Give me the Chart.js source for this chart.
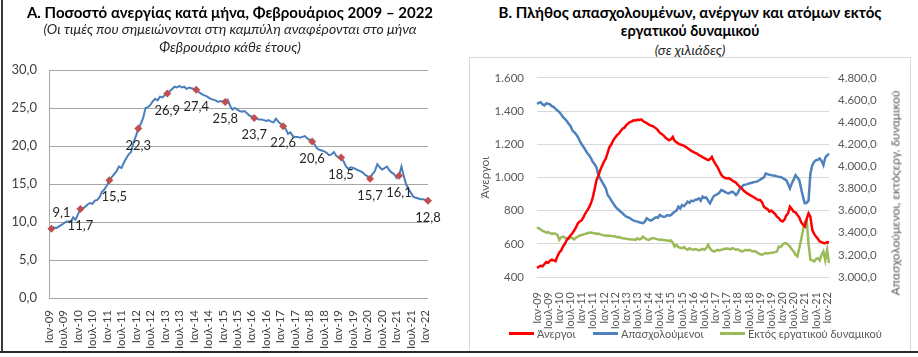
<!DOCTYPE html>
<html><head><meta charset="utf-8">
<script src="https://cdn.jsdelivr.net/npm/chart.js@4"></script>
<style>
html,body{margin:0;padding:0;background:#fff;}
body{width:918px;height:357px;position:relative;overflow:hidden;font-family:Lato,"Open Sans",sans-serif;}
.abs{position:absolute;}
.t{position:absolute;white-space:nowrap;transform:translate(-50%,-50%);}
.bold{font-weight:bold;font-size:15px;color:#000;}
.it{font-style:italic;font-size:14px;color:#262626;}
#frameL{left:1px;top:0;width:2px;height:353px;background:#3a3a3a;}
#frameB{left:0;top:351px;width:918px;height:2px;background:#2a2a2a;}
#boxB{left:469px;top:57px;width:440px;height:294px;border:1px solid #d9d9d9;}
#cA{left:0;top:0;}
#cB{left:470px;top:58px;}
#y1title{left:895px;top:193px;transform:translate(-50%,-50%) rotate(-90deg);font-size:12px;color:#595959;}
.leg{position:absolute;top:325px;height:16px;display:flex;align-items:center;font-size:11px;color:#595959;white-space:nowrap;}
.ln{display:inline-block;width:25px;height:3px;margin-right:3px;}
</style></head>
<body>
<div id="boxB" class="abs"></div>
<div class="abs" id="cA" style="width:460px;height:352px"><canvas id="chartA" width="460" height="352"></canvas></div>
<div class="abs" id="cB" style="width:440px;height:294px"><canvas id="chartB" width="440" height="294"></canvas></div>
<div class="t bold" style="left:230px;top:12px">Α. Ποσοστό ανεργίας κατά μήνα, Φεβρουάριος 2009 – 2022</div>
<div class="t it" style="left:230px;top:28px">(Οι τιμές που σημειώνονται στη καμπύλη αναφέρονται στο μήνα</div>
<div class="t it" style="left:230px;top:46px">Φεβρουάριο κάθε έτους)</div>
<div class="t bold" style="left:690px;top:12px">Β. Πλήθος απασχολουμένων, ανέργων και ατόμων εκτός</div>
<div class="t bold" style="left:690px;top:30px;font-size:14.5px">εργατικού δυναμικού</div>
<div class="t it" style="left:690px;top:49px">(σε χιλιάδες)</div>
<div class="t" id="y1title">Απασχολούμενοι, εκτόςεργ. δυναμικού</div>
<div id="legendB"></div>
<div id="frameL" class="abs"></div>
<div id="frameB" class="abs"></div>
<script>
// ---- categories ----
const years = ['09','10','11','12','13','14','15','16','17','18','19','20','21','22'];
const monthNames = ['Ιαν','Φεβ','Μαρ','Απρ','Μαϊ','Ιουν','Ιουλ','Αυγ','Σεπ','Οκτ','Νοε','Δεκ'];
const tickMonths = ['Ιαν','Ιουλ'];
const markedMonth = 'Φεβ';

// ---- Panel A: unemployment rate (%), Jan 2009 - Feb 2022 ----
const rate = [
  8.9, 9.1, 9.3, 9.2, 9.4, 9.6, 9.8, 10.0, 10.1, 10.0, 10.6, 10.3,
  11.0, 11.7, 11.8, 12.0, 12.3, 12.5, 12.4, 12.8, 12.9, 13.3, 14.0, 14.3,
  14.8, 15.5, 15.9, 16.3, 16.7, 17.3, 17.1, 17.8, 18.4, 18.9, 19.2, 20.5,
  21.3, 22.3, 22.9, 23.7, 25.0, 25.1, 25.4, 25.9, 26.2, 26.0, 26.5, 26.4,
  26.7, 26.9, 27.2, 27.5, 27.8, 27.7, 27.9, 27.7, 27.8, 27.5, 27.7, 27.6,
  27.5, 27.4, 27.1, 26.9, 26.7, 26.6, 26.4, 26.2, 26.1, 26.0, 25.8, 25.9,
  25.9, 25.8, 26.1, 25.3, 24.8, 25.0, 24.8, 24.6, 24.5, 24.6, 24.3, 24.0,
  23.9, 23.7, 23.6, 23.5, 23.5, 23.4, 23.3, 23.4, 23.2, 23.1, 23.6, 23.2,
  22.9, 22.6, 22.3, 21.6, 21.8, 21.3, 21.2, 21.2, 21.1, 21.2, 21.3, 21.0,
  20.8, 20.6, 20.2, 19.7, 19.5, 19.4, 19.3, 19.1, 18.8, 18.9, 19.2, 18.7,
  18.5, 18.5, 18.0, 17.3, 17.0, 17.2, 17.1, 17.0, 16.8, 16.7, 16.5, 16.2,
  16.0, 15.7, 16.3, 16.7, 17.6, 17.2, 16.9, 17.1, 17.3, 16.8, 16.5, 16.3,
  15.8, 16.1, 17.3, 16.0, 14.9, 14.3, 13.8, 13.3, 13.2, 13.1, 13.0, 13.0,
  12.9, 12.8
];

// ---- Panel B: thousands of persons, Jan 2009 - Feb 2022 ----
const unemployed = [
  455, 462, 468, 465, 478, 490, 486, 498, 505, 500, 496, 525,
  548, 560, 584, 600, 624, 636, 650, 664, 680, 700, 724, 735,
  742, 760, 784, 800, 820, 844, 880, 930, 984, 1010, 1044, 1070,
  1095, 1114, 1150, 1184, 1200, 1224, 1240, 1255, 1264, 1280, 1294, 1300,
  1315, 1325, 1334, 1338, 1345, 1344, 1348, 1346, 1350, 1340, 1334, 1328,
  1320, 1314, 1310, 1304, 1296, 1285, 1270, 1262, 1254, 1240, 1232, 1224,
  1230, 1244, 1220, 1212, 1204, 1198, 1196, 1190, 1184, 1176, 1168, 1160,
  1154, 1148, 1144, 1134, 1130, 1122, 1116, 1110, 1104, 1110, 1124, 1100,
  1080, 1064, 1040, 1018, 1004, 998, 994, 996, 990, 982, 975, 968,
  955, 945, 934, 922, 912, 904, 898, 890, 884, 878, 870, 864,
  864, 850, 824, 815, 808, 794, 800, 790, 780, 764, 755, 740,
  734, 745, 770, 784, 824, 810, 794, 790, 774, 760, 730, 715,
  704, 750, 784, 764, 684, 660, 644, 630, 614, 610, 605, 604,
  610, 608
];
const employed = [
  4566, 4575, 4581, 4560, 4551, 4570, 4566, 4560, 4545, 4536, 4520, 4505,
  4491, 4470, 4446, 4430, 4410, 4386, 4365, 4326, 4310, 4290, 4266, 4230,
  4200, 4176, 4150, 4120, 4101, 4075, 4040, 4020, 3990, 3921, 3890, 3860,
  3831, 3800, 3741, 3720, 3690, 3666, 3640, 3620, 3606, 3590, 3576, 3560,
  3545, 3540, 3531, 3520, 3510, 3505, 3501, 3495, 3490, 3486, 3500, 3531,
  3520, 3510, 3516, 3530, 3540, 3535, 3561, 3550, 3545, 3546, 3560, 3555,
  3560, 3576, 3590, 3600, 3636, 3620, 3651, 3640, 3660, 3681, 3670, 3690,
  3685, 3696, 3700, 3710, 3690, 3726, 3715, 3720, 3690, 3666, 3700, 3730,
  3741, 3750, 3760, 3786, 3780, 3770, 3760, 3756, 3765, 3771, 3760, 3741,
  3760, 3800, 3810, 3831, 3835, 3840, 3846, 3850, 3855, 3860, 3861, 3870,
  3880, 3891, 3900, 3936, 3930, 3925, 3921, 3918, 3915, 3910, 3906, 3905,
  3895, 3885, 3876, 3840, 3801, 3846, 3880, 3921, 3900, 3876, 3800, 3726,
  3666, 3670, 3690, 3936, 4011, 4040, 4056, 4060, 4071, 4050, 4011, 4080,
  4100, 4116
];
const outOfLabour = [
  3450, 3440, 3430, 3417, 3410, 3400, 3405, 3396, 3390, 3395, 3390, 3380,
  3336, 3360, 3366, 3355, 3351, 3345, 3360, 3351, 3340, 3355, 3366, 3375,
  3380, 3385, 3390, 3396, 3400, 3402, 3398, 3395, 3390, 3392, 3385, 3381,
  3378, 3372, 3375, 3372, 3370, 3368, 3366, 3360, 3362, 3355, 3351, 3348,
  3345, 3342, 3342, 3340, 3338, 3336, 3350, 3340, 3345, 3366, 3350, 3340,
  3336, 3345, 3350, 3351, 3345, 3340, 3336, 3338, 3334, 3332, 3330, 3325,
  3330, 3310, 3276, 3290, 3270, 3265, 3261, 3270, 3255, 3246, 3260, 3250,
  3246, 3252, 3250, 3240, 3246, 3255, 3246, 3260, 3291, 3260, 3240, 3231,
  3235, 3246, 3240, 3246, 3250, 3255, 3258, 3255, 3250, 3261, 3255, 3246,
  3250, 3240, 3231, 3235, 3246, 3240, 3246, 3238, 3231, 3235, 3225, 3215,
  3205, 3201, 3210, 3216, 3212, 3216, 3220, 3222, 3225, 3230, 3276, 3270,
  3290, 3306, 3306, 3290, 3276, 3250, 3231, 3200, 3186, 3260, 3336, 3420,
  3501, 3516, 3300, 3156, 3150, 3141, 3160, 3171, 3150, 3200, 3231, 3150,
  3246, 3126
];
const seriesNames = ['Άνεργοι', 'Απασχολούμενοι', 'Εκτός εργατικού δυναμικού'];

const months = years.flatMap(y => monthNames.map(m => m + '-' + y)).slice(0, rate.length);

// ---- helpers ----
const fmt1 = v => v.toFixed(1).replace('.', ',');
const fmtTh = v => String(Math.round(v)).replace(/\B(?=(\d{3})+(?!\d))/g, '.');
const isTick = l => tickMonths.some(m => l.startsWith(m + '-'));
const FONT = 'Lato, "Open Sans", sans-serif';
Chart.defaults.font.family = FONT;
Chart.defaults.animation = false;

const febLabels = {
  id: 'febLabels',
  afterDatasetsDraw(chart) {
    const meta = chart.getDatasetMeta(0);
    const ctx = chart.ctx;
    ctx.save();
    ctx.font = '13px ' + FONT;
    ctx.fillStyle = '#262626';
    ctx.textAlign = 'center';
    ctx.textBaseline = 'middle';
    let k = 0;
    meta.data.forEach((pt, i) => {
      if (!months[i].startsWith(markedMonth)) return;
      let dx = 0, dy = 17;
      if (k === 0) { dx = 10; dy = -16; }
      else if (k === 2) { dx = 5; }
      ctx.fillText(fmt1(rate[i]), pt.x + dx, pt.y + dy);
      k++;
    });
    ctx.restore();
  }
};

new Chart(document.getElementById('chartA'), {
  type: 'line',
  data: {
    labels: months,
    datasets: [{
      data: rate,
      borderColor: '#4a7ebb',
      borderWidth: 2,
      tension: 0,
      pointStyle: 'rectRot',
      pointRadius: c => months[c.dataIndex].startsWith(markedMonth) ? 4 : 0,
      pointBackgroundColor: '#c0504d',
      pointBorderColor: '#c0504d',
      pointBorderWidth: 0
    }]
  },
  options: {
    responsive: false,
    events: [],
    layout: { padding: { top: 70, right: 32, left: 4, bottom: 0 } },
    plugins: { legend: { display: false }, tooltip: { enabled: false } },
    scales: {
      x: {
        afterFit: s => { s.height = 54; },
        grid: { display: false },
        border: { display: false },
        ticks: {
          autoSkip: false, minRotation: 90, maxRotation: 90, padding: 4,
          color: '#404040', font: { size: 11.5 },
          callback(v) { const l = this.getLabelForValue(v); return isTick(l) ? l : ''; }
        }
      },
      y: {
        min: 0, max: 30,
        afterFit: s => { s.width = 45; },
        grid: { color: '#a6a6a6', drawTicks: false },
        border: { display: true, color: '#a6a6a6' },
        ticks: { stepSize: 5, padding: 12, color: '#404040', font: { size: 13 }, callback: v => fmt1(v) }
      }
    }
  },
  plugins: [febLabels]
});

const colorsB = ['#ff0000', '#4f81bd', '#9bbb59'];
const seriesB = [unemployed, employed, outOfLabour];
const axesB = ['y', 'y1', 'y1'];

new Chart(document.getElementById('chartB'), {
  type: 'line',
  data: {
    labels: months,
    datasets: seriesB.map((d, k) => ({
      label: seriesNames[k],
      data: d,
      yAxisID: axesB[k],
      borderColor: colorsB[k],
      backgroundColor: colorsB[k],
      borderWidth: 2.5,
      pointRadius: 0,
      tension: 0
    }))
  },
  options: {
    responsive: false,
    events: [],
    layout: { padding: { top: 19, right: 4, left: 4, bottom: 15 } },
    plugins: { tooltip: { enabled: false }, legend: { display: false } },
    scales: {
      x: {
        afterFit: s => { s.height = 60; },
        grid: { display: false },
        border: { display: false },
        ticks: {
          autoSkip: false, minRotation: 90, maxRotation: 90, padding: 7,
          color: '#595959', font: { size: 11 },
          callback(v) { const l = this.getLabelForValue(v); return isTick(l) ? l : ''; }
        }
      },
      y: {
        position: 'left', min: 400, max: 1600,
        afterFit: s => { s.width = 63; },
        grid: { color: '#d9d9d9', drawTicks: false },
        border: { display: false },
        title: { display: true, text: 'Άνεργοι', color: '#595959', font: { size: 12 } },
        ticks: { stepSize: 200, padding: 13, color: '#595959', font: { size: 11.5 }, callback: v => fmtTh(v) }
      },
      y1: {
        position: 'right', min: 3000, max: 4800,
        afterFit: s => { s.width = 77; },
        grid: { drawOnChartArea: false, drawTicks: false },
        border: { display: false },
        ticks: { stepSize: 200, padding: 9, color: '#595959', font: { size: 11.5 }, callback: v => fmtTh(v) + ',0' }
      }
    }
  }
});

// HTML legend for panel B, built from the series names and colours
const legendX = [509, 593, 720];
const legendBox = document.getElementById('legendB');
seriesNames.forEach((name, k) => {
  const item = document.createElement('div');
  item.className = 'leg';
  item.style.left = legendX[k] + 'px';
  const ln = document.createElement('span');
  ln.className = 'ln';
  ln.style.background = colorsB[k];
  const tx = document.createElement('span');
  tx.textContent = name;
  item.appendChild(ln);
  item.appendChild(tx);
  legendBox.appendChild(item);
});
</script>
</body></html>
